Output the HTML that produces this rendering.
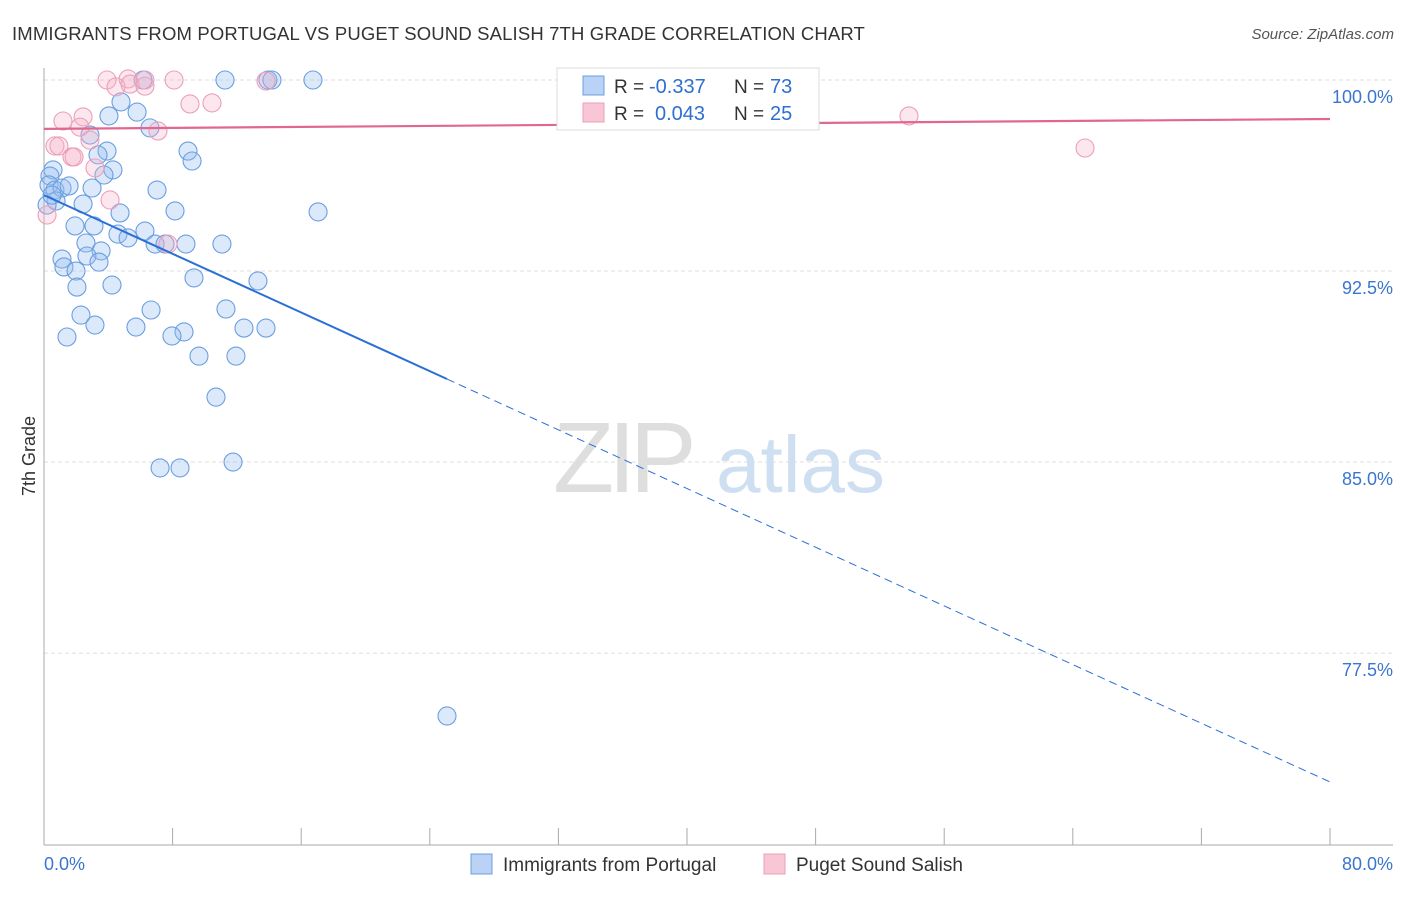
<!DOCTYPE html>
<html><head><meta charset="utf-8"><style>
body{margin:0;background:#fff;font-family:"Liberation Sans",sans-serif}
svg text{font-family:"Liberation Sans",sans-serif}
</style></head><body>
<svg id="c" width="1406" height="892" viewBox="0 0 1406 892">
<text x="12" y="40" font-size="18.5" fill="#333" letter-spacing="0.15">IMMIGRANTS FROM PORTUGAL VS PUGET SOUND SALISH 7TH GRADE CORRELATION CHART</text>
<text x="1394" y="39" font-size="15" fill="#555" font-style="italic" text-anchor="end">Source: ZipAtlas.com</text>
<g id="grid"></g>
<g>
<text x="553" y="492" font-size="100" fill="#dedede" font-family="Liberation Serif" letter-spacing="-6">ZIP</text>
<text x="716" y="492" font-size="80" fill="#cfdff2">atlas</text>
</g>
<g id="axes"></g>
<g id="pts"></g>
<g id="lines"></g>
<text x="35" y="456" font-size="18" fill="#333" text-anchor="middle" transform="rotate(-90 35 456)">7th Grade</text>
<g>
<rect x="557" y="68" width="262" height="62" fill="#fff" stroke="#ddd"/>
<rect x="583" y="76" width="21" height="19" fill="#b9d2f5" stroke="#6a9fe0"/>
<rect x="583" y="103" width="21" height="19" fill="#f9c6d6" stroke="#eba0b8"/>
<text x="614" y="93" font-size="19" fill="#333">R =</text>
<text x="649" y="93" font-size="20" fill="#2f6fd0">-0.337</text>
<text x="734" y="93" font-size="19" fill="#333">N =</text>
<text x="770" y="93" font-size="20" fill="#2f6fd0">73</text>
<text x="614" y="120" font-size="19" fill="#333">R =</text>
<text x="655" y="120" font-size="20" fill="#2f6fd0">0.043</text>
<text x="734" y="120" font-size="19" fill="#333">N =</text>
<text x="770" y="120" font-size="20" fill="#2f6fd0">25</text>
</g>
<g>
<rect x="471" y="854" width="21" height="20" fill="#b9d2f5" stroke="#6a9fe0"/>
<text x="503" y="871" font-size="19" fill="#333">Immigrants from Portugal</text>
<rect x="764" y="854" width="21" height="20" fill="#f9c6d6" stroke="#eba0b8"/>
<text x="796" y="871" font-size="19" fill="#333">Puget Sound Salish</text>
</g>
</svg>
<script>
const blueX=[6.16,11.26,13.93,14.18,16.73,4.79,4.04,5.79,6.59,2.86,3.92,8.96,3.36,9.21,4.29,0.56,3.73,0.37,0.31,0.68,1.12,1.56,2.99,7.03,0.75,2.43,4.73,8.15,17.05,1.93,3.11,4.60,5.23,6.28,6.91,7.53,8.83,11.07,2.61,3.55,2.67,1.12,3.42,1.24,1.99,9.33,13.31,4.23,2.05,6.66,11.32,2.30,3.17,5.72,8.71,7.96,12.44,13.81,1.43,9.64,11.94,10.70,7.22,8.46,11.76,25.07,0.19,0.50];
const blueY=[100,100,100,100,100,99.14,98.59,98.74,98.12,97.84,97.21,97.21,97.06,96.82,96.47,96.47,96.27,96.23,95.88,95.68,95.76,95.84,95.76,95.68,95.25,95.13,94.78,94.86,94.82,94.27,94.27,93.95,93.80,94.07,93.56,93.56,93.56,93.56,93.60,93.29,93.09,92.97,92.85,92.66,92.50,92.23,92.11,91.95,91.87,90.97,91.01,90.77,90.38,90.30,90.11,89.95,90.26,90.26,89.91,89.16,89.16,87.55,84.77,84.77,85.00,75.03,95.09,95.48];
const pinkX=[3.92,5.23,6.28,8.09,13.81,4.48,5.35,6.28,9.08,10.45,1.18,2.43,2.24,7.09,2.86,0.68,0.93,1.74,1.87,3.17,4.11,7.71,0.19,53.81,64.76];
const pinkY=[100,100.04,100,100,99.96,99.73,99.84,99.76,99.06,99.10,98.39,98.55,98.15,98.00,97.64,97.41,97.41,96.98,96.98,96.55,95.29,93.56,94.70,98.59,97.33];
const blueTrendX=[0,25.07,80];
const blueTrendY=[95.48,88.26,72.44];
const pinkTrendX=[0,80];
const pinkTrendY=[98.08,98.47];
const yTicks=[100,92.5,85,77.5];
const yTickLabels=["100.0%","92.5%","85.0%","77.5%"];
const xTicks=[0,8,16,24,32,40,48,56,64,72,80];

const X=v=>44+v*16.075, Y=v=>80+(100-v)*25.47;
const NS='http://www.w3.org/2000/svg';
function mk(tag,attrs,parent){const e=document.createElementNS(NS,tag);for(const k in attrs)e.setAttribute(k,attrs[k]);parent.appendChild(e);return e;}
const grid=document.getElementById('grid'),axes=document.getElementById('axes'),pts=document.getElementById('pts'),lines=document.getElementById('lines');
yTicks.forEach((t,i)=>{
 const l=mk('line',{x1:44,x2:1393,y1:Y(t),y2:Y(t),stroke:'#ddd','stroke-dasharray':'4 3'},grid);
 
 
 const tx=mk('text',{x:1393,y:Y(t)+23,'font-size':18,fill:'#3a75d0','text-anchor':'end'},grid);
 tx.textContent=yTickLabels[i];
 
 
});
const ax=mk('line',{x1:44,x2:44,y1:68,y2:845,stroke:'#aaa'},axes);


const bx=mk('line',{x1:44,x2:1393,y1:845,y2:845,stroke:'#aaa'},axes);


xTicks.forEach(t=>{
 const l=mk('line',{x1:X(t),x2:X(t),y1:828,y2:845,stroke:'#aaa'},axes);
 
 
});
const x0=mk('text',{x:44,y:870,'font-size':18,fill:'#3a75d0'},axes);x0.textContent='0.0%';


const x1=mk('text',{x:1393,y:870,'font-size':18,fill:'#3a75d0','text-anchor':'end'},axes);x1.textContent='80.0%';


blueX.forEach((v,i)=>{
 const c=mk('circle',{cx:X(v),cy:Y(blueY[i]),r:9,fill:'rgba(150,188,240,0.33)',stroke:'#6a9fe0','stroke-width':1.1},pts);
 
 
});
pinkX.forEach((v,i)=>{
 const c=mk('circle',{cx:X(v),cy:Y(pinkY[i]),r:9,fill:'rgba(245,175,198,0.3)',stroke:'#eba0b8','stroke-width':1.1},pts);
 
 
});
const b1=mk('line',{x1:X(blueTrendX[0]),y1:Y(blueTrendY[0]),x2:X(blueTrendX[1]),y2:Y(blueTrendY[1]),stroke:'#2a6fd6','stroke-width':2},lines);


const b2=mk('line',{x1:X(blueTrendX[1]),y1:Y(blueTrendY[1]),x2:X(blueTrendX[2]),y2:Y(blueTrendY[2]),stroke:'#2a6fd6','stroke-width':1,'stroke-dasharray':'8 5'},lines);


const p1=mk('line',{x1:X(pinkTrendX[0]),y1:Y(pinkTrendY[0]),x2:X(pinkTrendX[1]),y2:Y(pinkTrendY[1]),stroke:'#e06890','stroke-width':2.2},lines);


</script>
</body></html>
